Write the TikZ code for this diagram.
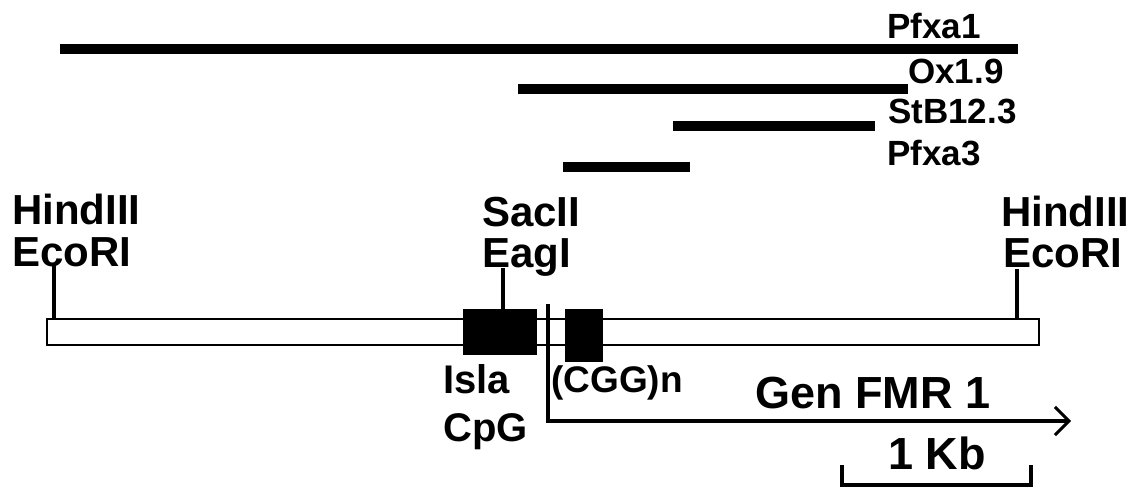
\documentclass[tikz,border=0pt]{standalone}
\usepackage{fontspec}
\setmainfont{Liberation Sans}
\usetikzlibrary{arrows.meta}
\begin{document}
\begin{tikzpicture}[x=1pt,y=-1pt,
  lbl/.style={inner sep=0pt,anchor=base west,font=\bfseries\fontsize{42}{42}\selectfont},
  plbl/.style={inner sep=0pt,anchor=base west,font=\bfseries\fontsize{35}{35}\selectfont},
  probe/.style={line width=10pt},
  tick/.style={line width=3.5pt},
  exon/.style={fill=black,draw=black,inner sep=0pt,minimum width=#1,anchor=north west}]
\useasboundingbox (0,0) rectangle (1147,489);
% probes
\coordinate (p1a) at (60,49);  \coordinate (p1b) at (1018,49);
\coordinate (p2a) at (518,89); \coordinate (p2b) at (908,89);
\coordinate (p3a) at (673,126); \coordinate (p3b) at (875,126);
\coordinate (p4a) at (563,167); \coordinate (p4b) at (690,167);
\draw[probe] (p1a) -- (p1b);
\draw[probe] (p2a) -- (p2b);
\draw[probe] (p3a) -- (p3b);
\draw[probe] (p4a) -- (p4b);
\node[plbl] (pfxa1) at (887,39) {Pfxa1};
\node[plbl] (ox) at (908,84) {Ox1.9};
\node[plbl] (stb) at (888,124) {StB12.3};
\node[plbl] (pfxa3) at (887,165) {Pfxa3};
% genomic fragment
\draw[line width=2pt] (47,319) rectangle (1039,345);
\node[exon=73pt,minimum height=45pt] (cpg) at (463,309) {};
\node[exon=37pt,minimum height=52pt] (cgg) at (565,309) {};
% restriction sites
\node[lbl] (h1) at (12,224) {HindIII};
\node[lbl] (e1) at (12,266) {EcoRI};
\node[lbl] (s1) at (482,226) {SacII};
\node[lbl] (e2) at (482,267) {EagI};
\node[lbl] (h2) at (1001,226) {HindIII};
\node[lbl] (e3) at (1003,267) {EcoRI};
\coordinate (t1) at (54,264); \coordinate (b1) at (54,319);
\coordinate (t2) at (503,268);
\coordinate (t3) at (1017,269); \coordinate (b3) at (1017,319);
\draw[tick] (t1) -- (b1);
\draw[tick] (t2) -- (cpg.north -| t2);
\draw[tick] (t3) -- (b3);
% labels under the fragment
\node[lbl,font=\bfseries\fontsize{40}{40}\selectfont] (isla) at (443,393) {Isla};
\node[lbl,font=\bfseries\fontsize{40}{40}\selectfont] (cpgl) at (443,441) {CpG};
\node[lbl,font=\bfseries\fontsize{37}{37}\selectfont] (cggl) at (551,392) {(CGG)n};
% transcription start and direction
\coordinate (ts) at (548,304); \coordinate (tc) at (548,421);
\coordinate (te) at (1071,421);
\draw[line width=3.5pt,-{Straight Barb[length=14pt,width=28pt,line width=3pt]}] (ts) -- (tc) -- (te);
\node[lbl,font=\bfseries\fontsize{45}{45}\selectfont] (gen) at (755,408) {Gen FMR 1};
% scale bar
\coordinate (k1) at (842,465); \coordinate (k2) at (1031,465);
\node[inner sep=0pt,anchor=base,font=\bfseries\fontsize{45}{45}\selectfont] (kb) at (937,469) {1 Kb};
\draw[tick] (k1) -- ++(0,20) -| (k2);
\end{tikzpicture}
\end{document}
